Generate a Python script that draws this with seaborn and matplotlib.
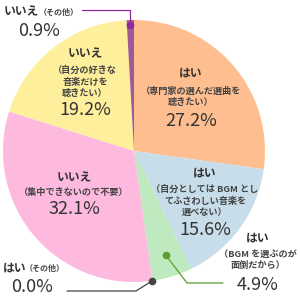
import numpy as np
import matplotlib
matplotlib.use("Agg")
import matplotlib.pyplot as plt
import seaborn as sns

# ---- data ----
answers = ["はい", "はい", "はい", "はい", "いいえ", "いいえ", "いいえ"]
reasons = ["（専門家の選んだ選曲を\n聴きたい）",
           "（自分としては BGM とし\nてふさわしい音楽を\n選べない）",
           "（BGM を選ぶのが\n面倒だから）",
           "（その他）",
           "（集中できないので不要）",
           "（自分の好きな\n音楽だけを\n聴きたい）",
           "（その他）"]
values = [27.2, 15.6, 4.9, 0.0, 32.1, 19.2, 0.9]
colors = ["#FFBE8F", "#C7DDEA", "#BFE9BF", "#888888", "#FEB9DE", "#FEEF9C", "#9E5A94"]

sns.set_theme(style="white")
plt.rcParams['font.family'] = ['Noto Sans CJK JP', 'DejaVu Sans']

fig = plt.figure(figsize=(3, 3), dpi=100)
CX, CY, R = 134, 151, 131
ax = fig.add_axes([(CX - R) / 300, (300 - CY - R) / 300, 2 * R / 300, 2 * R / 300])
wedges, _ = ax.pie(values, colors=colors, startangle=90, counterclock=False,
                   wedgeprops=dict(linewidth=0), normalize=True)
ax.set_xlim(-1, 1)
ax.set_ylim(-1, 1)
ax.set_aspect('equal')
ax.axis('off')

TXT = "#333333"
BODYC = "#444444"
HEAD = 8.5
BODY = 6.6
PCT = 13

def P(px, py):
    return ((px - CX) / R, (CY - py) / R)

def block(px, py_head, py_body, py_pct, idx):
    x, y = P(px, py_head)
    ax.text(x, y, answers[idx], ha='center', va='center', fontsize=HEAD,
            fontweight='bold', color=TXT)
    x, y = P(px, py_body)
    ax.text(x, y, reasons[idx], ha='center', va='center', fontsize=BODY,
            color=BODYC, linespacing=1.35, fontweight='bold')
    x, y = P(px, py_pct)
    ax.text(x, y, f"{values[idx]:.1f}%", ha='center', va='center', fontsize=PCT,
            color=TXT)

# inside labels
block(191, 73, 97, 121, 0)
block(205, 173, 201, 230, 1)
block(85, 54, 82, 110, 5)
block(74, 178, 192, 209, 4)

# green (outside)
block(258, 238, 260, 285, 2)

def anchor(i, r):
    w = wedges[i]
    a = np.deg2rad((w.theta1 + w.theta2) / 2)
    return r * np.cos(a), r * np.sin(a)

# green leader
gx, gy = anchor(2, 0.83)
p1 = P(187, 283); p2 = P(223, 283)
ax.plot([gx, p1[0], p2[0]], [gy, p1[1], p2[1]], color="#5A9E2F", lw=0.9,
        clip_on=False, zorder=5)
ax.plot([gx], [gy], 'o', color="#5A9E2F", ms=4.5, clip_on=False, zorder=6)

# gray "はい（その他）" 0.0%
w = wedges[3]
a = np.deg2rad(w.theta1)
dx, dy = 1.0 * np.cos(a), 1.0 * np.sin(a)
p1 = P(136, 291); p2 = P(67, 291)
ax.plot([dx, p1[0], p2[0]], [dy, p1[1], p2[1]], color="#444444", lw=0.9,
        clip_on=False, zorder=5)
ax.plot([dx], [dy], 'o', color="#444444", ms=4.5, clip_on=False, zorder=6)
x, y = P(3, 268)
ax.text(x, y, answers[3], ha='left', va='center', fontsize=HEAD,
        fontweight='bold', color=TXT)
x, y = P(25, 268)
ax.text(x, y, reasons[3], ha='left', va='center', fontsize=5.8, color=BODYC,
        fontweight='bold')
x, y = P(32, 287)
ax.text(x, y, f"{values[3]:.1f}%", ha='center', va='center', fontsize=PCT, color=TXT)

# purple "いいえ（その他）" 0.9%
px_, py_ = anchor(6, 0.96)
p1 = P(130, 10); p2 = P(82, 10)
ax.plot([px_, px_, p2[0]], [py_, p1[1], p2[1]], color="#8E2A9E", lw=0.9,
        clip_on=False, zorder=5)
ax.plot([px_], [py_], 'o', color="#8E2A9E", ms=4.5, clip_on=False, zorder=6)
x, y = P(4, 12)
ax.text(x, y, answers[6], ha='left', va='center', fontsize=HEAD,
        fontweight='bold', color=TXT)
x, y = P(39, 12)
ax.text(x, y, reasons[6], ha='left', va='center', fontsize=5.8, color=BODYC,
        fontweight='bold')
x, y = P(39, 31)
ax.text(x, y, f"{values[6]:.1f}%", ha='center', va='center', fontsize=PCT, color=TXT)

fig.savefig("out.png", dpi=100, facecolor="white")
